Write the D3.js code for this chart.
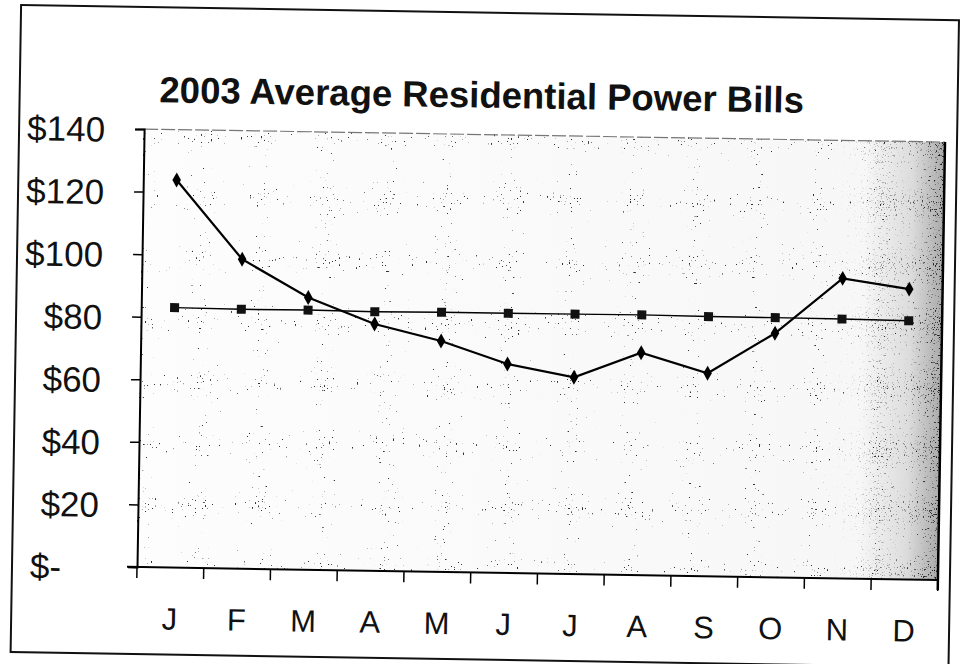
<!DOCTYPE html>
<html><head><meta charset="utf-8">
<script src="https://cdn.jsdelivr.net/npm/d3@7"></script>
<style>body{margin:0;background:#fff}</style>
</head><body>
<svg id="chart" width="964" height="664"></svg>
<script>
// ---- data ----
const months = ["J","F","M","A","M","J","J","A","S","O","N","D"];
const actualBill = [123.9, 98.9, 87.0, 78.9, 73.8, 66.8, 62.9, 71.1, 64.9, 78.0, 95.9, 92.8];
const averageBill = [83.1, 82.9, 83.0, 82.8, 83.0, 83.0, 83.1, 83.2, 83.0, 83.0, 82.9, 82.7];
const yTickValues = [0, 20, 40, 60, 80, 100, 120, 140];
const chartTitle = "2003 Average Residential Power Bills";

const svg = d3.select("#chart");
const plot = {left: 137, right: 938, top: 129, bottom: 567};
const font = "'Liberation Sans', Arial, Helvetica, sans-serif";

const defs = svg.append("defs");
const grad = defs.append("linearGradient").attr("id", "bg").attr("x1", "0%").attr("x2", "100%");
[[0, "#fdfdfd"], [0.9, "#f7f7f7"], [0.96, "#dcdcdc"], [1, "#aaaaaa"]].forEach(([o, c]) =>
  grad.append("stop").attr("offset", o).attr("stop-color", c));
const mgrad = defs.append("linearGradient").attr("id", "mg").attr("x1", "0%").attr("x2", "100%");
[[0, "#000"], [0.86, "#000"], [0.93, "#666"], [1, "#fff"]].forEach(([o, c]) =>
  mgrad.append("stop").attr("offset", o).attr("stop-color", c));
defs.append("mask").attr("id", "rightMask").attr("maskUnits", "userSpaceOnUse")
  .append("rect").attr("x", plot.left).attr("y", plot.top)
  .attr("width", plot.right - plot.left).attr("height", plot.bottom - plot.top).attr("fill", "url(#mg)");

function speckleFilter(id, freq, slope, offset, seed) {
  const f = defs.append("filter").attr("id", id).attr("x", 0).attr("y", 0).attr("width", "100%").attr("height", "100%");
  f.append("feTurbulence").attr("type", "fractalNoise").attr("baseFrequency", freq).attr("numOctaves", 1).attr("seed", seed);
  f.append("feColorMatrix").attr("type", "matrix")
    .attr("values", `0 0 0 0 0  0 0 0 0 0  0 0 0 0 0  ${slope} 0 0 0 ${offset}`);
}
speckleFilter("speckle", 0.7, 22, -14.6, 4);
speckleFilter("speckleDense", 0.85, 12, -6.9, 7);

// whole drawing slightly tilted like the scanned reference
const g = svg.append("g").attr("transform", `rotate(0.93, ${plot.left}, ${plot.bottom})`);

// outer frame
g.append("rect").attr("x", 12).attr("y", 7).attr("width", 938).attr("height", 647)
  .attr("fill", "none").attr("stroke", "#111").attr("stroke-width", 2);

const x = d3.scaleBand().domain(d3.range(months.length)).range([plot.left, plot.right]).padding(0);
const y = d3.scaleLinear().domain([0, 140]).range([plot.bottom, plot.top]);

// plot background
const pw = plot.right - plot.left, ph = plot.bottom - plot.top;
g.append("rect").attr("x", plot.left).attr("y", plot.top).attr("width", pw).attr("height", ph)
  .attr("fill", "url(#bg)");
g.append("rect").attr("x", plot.left).attr("y", plot.top).attr("width", pw).attr("height", ph)
  .attr("fill", "#000").attr("filter", "url(#speckle)").attr("opacity", 0.8);
g.append("g").attr("mask", "url(#rightMask)")
  .append("rect").attr("x", plot.left).attr("y", plot.top).attr("width", pw).attr("height", ph)
  .attr("fill", "#000").attr("filter", "url(#speckleDense)").attr("opacity", 0.85);
// plot top border and right edge
g.append("line").attr("x1", plot.left).attr("x2", plot.right).attr("y1", plot.top).attr("y2", plot.top)
  .attr("stroke", "#777").attr("stroke-width", 1.2).attr("stroke-dasharray", "14,3");
g.append("line").attr("x1", plot.right).attr("x2", plot.right).attr("y1", plot.top).attr("y2", plot.bottom + 10)
  .attr("stroke", "#000").attr("stroke-width", 2.5);

// title
g.append("text").attr("x", 474).attr("y", 102).attr("text-anchor", "middle")
  .attr("font-family", font).attr("font-weight", "bold").attr("font-size", 36.5).attr("fill", "#111")
  .text(chartTitle);

// y axis
const yAxis = d3.axisLeft(y).tickValues(yTickValues).tickSize(9).tickPadding(30)
  .tickFormat(v => v === 0 ? "$-" : "$" + v);
const ya = g.append("g").attr("transform", `translate(${plot.left},0)`).call(yAxis);
ya.select(".domain").attr("stroke", "#000").attr("stroke-width", 2);
ya.selectAll(".tick line").attr("stroke", "#000").attr("stroke-width", 1.5);
ya.selectAll(".tick text").attr("font-family", font).attr("font-size", 35).attr("fill", "#111")
  .attr("dy", "0.36em")
  .attr("x", v => v === 0 ? -76 : -39);

// x axis
const xAxis = d3.axisBottom(x).tickSize(0).tickPadding(45).tickFormat(i => months[i]);
const xa = g.append("g").attr("transform", `translate(0,${plot.bottom})`).call(xAxis);
xa.select(".domain").remove();
xa.selectAll(".tick text").attr("font-family", font).attr("font-size", 31).attr("fill", "#111")
  .attr("dy", 0).attr("y", 62);
g.append("line").attr("x1", plot.left - 10).attr("x2", plot.right).attr("y1", plot.bottom).attr("y2", plot.bottom)
  .attr("stroke", "#000").attr("stroke-width", 2);
const bounds = d3.range(months.length).map(i => x(i)).concat([x.range()[1]]);
g.selectAll(".xtick").data(bounds).join("line").attr("class", "xtick")
  .attr("x1", d => d).attr("x2", d => d).attr("y1", plot.bottom).attr("y2", plot.bottom + 11)
  .attr("stroke", "#000").attr("stroke-width", 1.5);

const cx = i => x(i) + x.bandwidth() / 2;
const line = d3.line().x((d, i) => cx(i)).y(d => y(d));

// average series (squares)
g.append("path").datum(averageBill).attr("d", line).attr("fill", "none").attr("stroke", "#000").attr("stroke-width", 1.4);
g.selectAll(".sq").data(averageBill).join("rect").attr("class", "sq")
  .attr("x", (d, i) => cx(i) - 4.5).attr("y", d => y(d) - 4.5).attr("width", 9).attr("height", 9)
  .attr("fill", "#111");

// actual series (diamonds)
g.append("path").datum(actualBill).attr("d", line).attr("fill", "none").attr("stroke", "#000").attr("stroke-width", 2.2);
const diamond = d3.symbol().type(d3.symbolDiamond).size(64);
g.selectAll(".dm").data(actualBill).join("path").attr("class", "dm")
  .attr("transform", (d, i) => `translate(${cx(i)},${y(d)})`)
  .attr("d", diamond).attr("fill", "#000");
</script>
</body></html>
